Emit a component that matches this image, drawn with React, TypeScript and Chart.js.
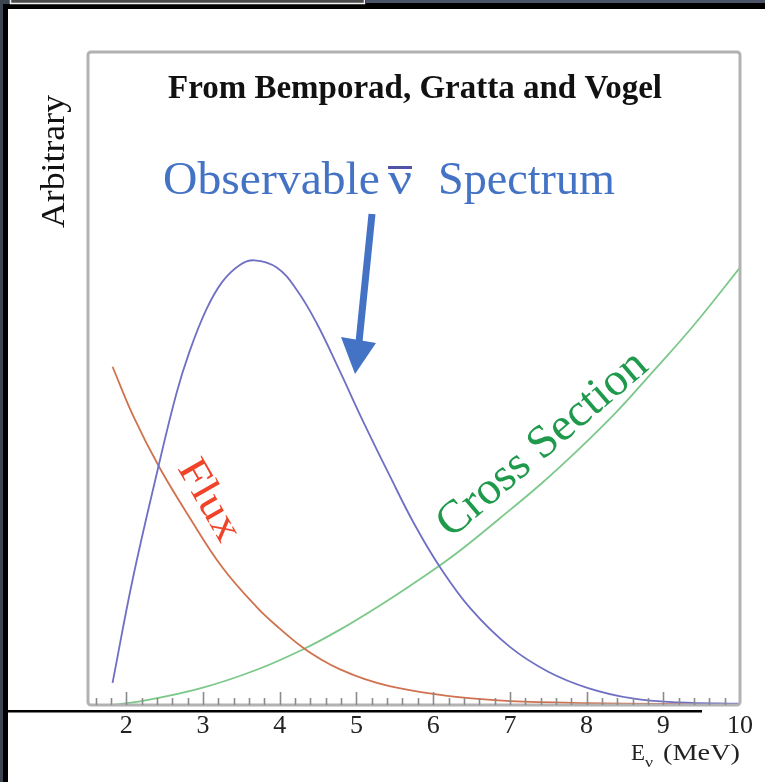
import { useEffect, useRef } from "react";
import { Chart, registerables } from "chart.js";

Chart.register(...registerables);

// ---- data (arbitrary units 0..100) ----
const spectrumE = [1.82, 2.08, 2.4, 2.65, 2.82, 3.04, 3.25, 3.48, 3.67, 3.96, 4.22, 4.48, 4.78, 5.08, 5.43, 5.75, 6.09, 6.5, 7.0, 7.5, 8.02, 8.6, 9.2, 10.0];
const spectrumY = [3.4, 19.1, 35.6, 47.6, 54.0, 60.5, 64.8, 67.4, 68.1, 67.0, 63.6, 58.5, 51.2, 43.6, 35.2, 27.8, 21.1, 14.6, 8.9, 5.1, 2.6, 1.0, 0.4, 0.2];

const fluxE = [1.82, 2.1, 2.43, 2.82, 3.25, 3.7, 4.0, 4.3, 4.55, 4.78, 5.1, 5.43, 6.0, 6.5, 7.0, 8.0, 9.0, 10.0];
const fluxY = [51.8, 44.0, 36.4, 28.8, 21.1, 15.0, 11.7, 8.8, 6.9, 5.5, 4.0, 2.9, 1.7, 1.0, 0.6, 0.3, 0.15, 0.1];

const crossE = [1.82, 2.2, 2.95, 3.7, 4.3, 4.78, 5.3, 5.83, 6.3, 6.87, 7.4, 7.91, 8.4, 8.83, 9.4, 10.0];
const crossY = [0, 0.6, 2.5, 5.4, 8.5, 11.5, 15.2, 19.3, 23.2, 28.6, 33.8, 39.3, 45.0, 50.6, 58.2, 67.0];

const majorTicks = [2, 3, 4, 5, 6, 7, 8, 9, 10];
const tickLabels = ["2", "3", "4", "5", "6", "7", "8", "9", "10"];
const minorPerMajor = 5;
const xMin = 1.5;
const xMax = 10;

const titleText = "From Bemporad, Gratta and Vogel";
const yTitle = "Arbitrary";
const spectrumWord1 = "Observable";
const nuChar = "ν";
const spectrumWord2 = "Spectrum";
const fluxLabel = "Flux";
const crossLabel = "Cross Section";
const xTitleMain = "E";
const xTitleSub = "ν";
const xTitleUnit = "(MeV)";

const SERIF = '"Liberation Serif", "DejaVu Serif", serif';

function fitText(ctx: CanvasRenderingContext2D, text: string, x: number, y: number, width: number) {
  const w = ctx.measureText(text).width;
  ctx.save();
  ctx.translate(x, y);
  ctx.scale(width / w, 1);
  ctx.textAlign = "left";
  ctx.fillText(text, 0, 0);
  ctx.restore();
}

const decorPlugin = {
  id: "decor",
  beforeDraw(chart: any) {
    const ctx: CanvasRenderingContext2D = chart.ctx;
    const W = chart.width;
    const H = chart.height;
    ctx.save();
    ctx.fillStyle = "#000";
    ctx.fillRect(0, 0, W, H);
    ctx.fillStyle = "#ffffff";
    ctx.fillRect(8, 9, W - 8, H - 9);
    ctx.fillStyle = "#3d4452";
    ctx.fillRect(0, 0, 3, H);
    ctx.fillRect(0, 0, 10, 4);
    ctx.fillStyle = "#4c5467";
    ctx.fillRect(366, 0, W - 366, 3);
    ctx.fillStyle = "#4a4a4a";
    ctx.fillRect(10, 0, 355, 3);
    ctx.strokeStyle = "#f4f4f4";
    ctx.lineWidth = 1.5;
    ctx.beginPath();
    ctx.moveTo(10.5, 0);
    ctx.lineTo(10.5, 3.5);
    ctx.lineTo(364.5, 3.5);
    ctx.lineTo(364.5, 0);
    ctx.stroke();
    ctx.restore();
  },
  afterDatasetsDraw(chart: any) {
    const ctx: CanvasRenderingContext2D = chart.ctx;
    const area = chart.chartArea;
    const xs = chart.scales.x;
    ctx.save();

    // frame
    ctx.strokeStyle = "#b2b2b2";
    ctx.lineWidth = 3;
    ctx.beginPath();
    (ctx as any).roundRect(area.left, area.top, area.right - area.left, area.bottom - area.top, 3);
    ctx.stroke();

    // ticks
    ctx.strokeStyle = "#8a8a8a";
    ctx.lineWidth = 1.6;
    const step = (majorTicks[1] - majorTicks[0]) / minorPerMajor;
    for (let v = majorTicks[0] - 2 * step; v < xMax - 1e-6; v += step) {
      if (v < xMin + 1e-6) continue;
      const px = Math.round(xs.getPixelForValue(v)) + 0.5;
      const isMajor = majorTicks.some((m) => Math.abs(m - v) < 1e-6);
      const len = isMajor ? 13 : 7;
      ctx.beginPath();
      ctx.moveTo(px, area.bottom);
      ctx.lineTo(px, area.bottom - len);
      ctx.stroke();
    }

    // black baseline
    ctx.fillStyle = "#000";
    ctx.fillRect(7, 710, 695, 2.5);

    // tick labels
    ctx.fillStyle = "#222";
    ctx.font = `26px ${SERIF}`;
    ctx.textAlign = "center";
    ctx.textBaseline = "alphabetic";
    majorTicks.forEach((v, i) => {
      ctx.fillText(tickLabels[i], xs.getPixelForValue(v), 733);
    });

    // x title
    ctx.font = `24px ${SERIF}`;
    ctx.textAlign = "left";
    fitText(ctx, xTitleMain, 631, 760, 14);
    ctx.font = `15px ${SERIF}`;
    fitText(ctx, xTitleSub, 645, 767, 8);
    ctx.font = `24px ${SERIF}`;
    fitText(ctx, xTitleUnit, 663, 760, 77);

    // y title
    ctx.save();
    ctx.translate(64, 228);
    ctx.rotate(-Math.PI / 2);
    ctx.font = `34px ${SERIF}`;
    ctx.fillStyle = "#111";
    fitText(ctx, yTitle, 0, 0, 133);
    ctx.restore();

    // chart title
    ctx.fillStyle = "#111";
    ctx.font = `bold 33px ${SERIF}`;
    fitText(ctx, titleText, 168, 98, 494);

    // Observable spectrum label
    ctx.fillStyle = "#4472C4";
    ctx.font = `47px ${SERIF}`;
    fitText(ctx, spectrumWord1, 163, 194, 217);
    fitText(ctx, nuChar, 388, 194, 24);
    fitText(ctx, spectrumWord2, 438, 194, 177);
    ctx.fillStyle = "#5252a8";
    ctx.fillRect(388, 166, 24, 3);

    // arrow
    ctx.strokeStyle = "#4472C4";
    ctx.fillStyle = "#4472C4";
    ctx.lineWidth = 7;
    ctx.lineCap = "butt";
    ctx.beginPath();
    ctx.moveTo(372, 214);
    ctx.lineTo(359, 342);
    ctx.stroke();
    ctx.beginPath();
    ctx.moveTo(341, 337);
    ctx.lineTo(376, 343);
    ctx.lineTo(355, 374);
    ctx.closePath();
    ctx.fill();

    // Flux label
    ctx.save();
    ctx.translate(177, 468);
    ctx.rotate((60 * Math.PI) / 180);
    ctx.fillStyle = "#f0442a";
    ctx.font = `42px ${SERIF}`;
    fitText(ctx, fluxLabel, 0, 0, 88);
    ctx.restore();

    // Cross Section label
    ctx.save();
    ctx.translate(451, 539);
    ctx.rotate(Math.atan2(367 - 539, 652 - 451));
    ctx.fillStyle = "#1f9a4c";
    ctx.font = `46px ${SERIF}`;
    fitText(ctx, crossLabel, 0, 0, 262);
    ctx.restore();

    ctx.restore();
  },
};

export default function App() {
  const ref = useRef<HTMLCanvasElement | null>(null);
  useEffect(() => {
    if (!ref.current) return;
    const toPts = (xsA: number[], ysA: number[]) => xsA.map((x, i) => ({ x, y: ysA[i] }));
    const chart = new Chart(ref.current, {
      type: "line",
      data: {
        datasets: [
          { label: "Spectrum", data: toPts(spectrumE, spectrumY), borderColor: "#6f6fc4", borderWidth: 1.8 },
          { label: "Flux", data: toPts(fluxE, fluxY), borderColor: "#d0724f", borderWidth: 1.8 },
          { label: "Cross Section", data: toPts(crossE, crossY), borderColor: "#7cc88a", borderWidth: 1.8 },
        ],
      },
      options: {
        responsive: false,
        animation: false,
        layout: { padding: { left: 88, top: 52, right: 25, bottom: 77 } },
        plugins: { legend: { display: false }, tooltip: { enabled: false }, title: { display: false } },
        scales: {
          x: { type: "linear", min: xMin, max: xMax, display: false },
          y: { type: "linear", min: 0, max: 100, display: false },
        },
        elements: {
          point: { radius: 0 },
          line: { tension: 0.4, fill: false },
        },
      },
      plugins: [decorPlugin],
    } as any);
    return () => chart.destroy();
  }, []);
  return (
    <div style={{ position: "fixed", left: 0, top: 0, width: 765, height: 782 }}>
      <canvas ref={ref} width={765} height={782} style={{ display: "block", width: 765, height: 782 }} />
    </div>
  );
}
